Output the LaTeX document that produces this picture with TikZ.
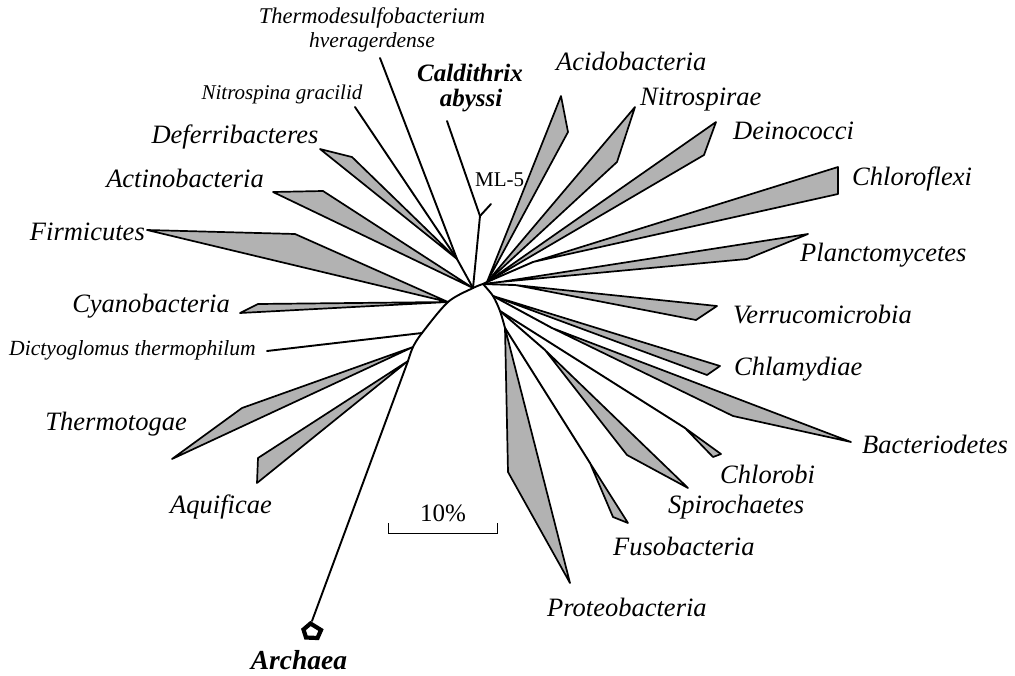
\documentclass[tikz,border=0pt]{standalone}
\usepackage{fontspec}
\setmainfont{Liberation Serif}
\begin{document}
\begin{tikzpicture}[x=1pt,y=-1pt,
  clade/.style={draw=black, fill=black!30, line width=1.7pt, line join=round},
  branch/.style={draw=black, line width=1.9pt, line join=round, line cap=round},
  biglab/.style={font=\fontsize{26.5}{30}\selectfont\itshape, inner sep=0pt},
  smalllab/.style={font=\fontsize{21}{24}\selectfont\itshape, inner sep=0pt},
  boldlab/.style={font=\fontsize{25}{28}\selectfont\bfseries\itshape, inner sep=0pt},
  uplab/.style={font=\fontsize{21}{24}\selectfont, inner sep=0pt}]
\useasboundingbox (0,0) rectangle (1015,675);
% junctions
\coordinate (C) at (473,288);
\coordinate (R) at (483,284);
\coordinate (UR) at (487,282);
\coordinate (N1) at (457,259);
\coordinate (L1) at (448,302);
\coordinate (L2) at (422,333);
\coordinate (L3) at (413,347);
\coordinate (L4) at (408,361);
\coordinate (R1) at (493,296);
\coordinate (R2) at (500,311);
\coordinate (P) at (505,328);
\coordinate (ML) at (480,216);
\coordinate (CalT) at (447,121);
\coordinate (MLT) at (491,204);
\coordinate (NitT) at (355,107);
\coordinate (TheT) at (380,58);
\coordinate (DicT) at (267,351);
\coordinate (ArcT) at (312,621);
\coordinate (CF) at (533,262);
\coordinate (PL) at (500,282);
\coordinate (VE) at (515,285);
\coordinate (BA) at (552,328);
\coordinate (CB) at (685,428);
\coordinate (SP) at (545,350);
\coordinate (FU) at (590,463);
% backbone
\draw[branch] plot[smooth,tension=0.5] coordinates {(R) (C) (L1) (L2) (L3) (L4)};
\draw[branch] plot[smooth,tension=0.5] coordinates {(R) (R1) (R2) (P)};
\draw[branch] (L4) -- (ArcT);
\draw[line width=4.2pt, fill=white, line join=miter] (303.5,629.5) -- (310.5,623.5) -- (321,630) -- (317.5,638) -- (306,637.5) -- cycle;
% upper left
\draw[branch] (C) -- (ML);
\draw[branch] (ML) -- (CalT);
\draw[branch] (ML) -- (MLT);
\draw[branch] (C) -- (N1);
\draw[branch] (N1) -- (NitT);
\draw[branch] (N1) -- (TheT);
\draw[clade] (N1) -- (320,149) -- (352,157) -- cycle;
\draw[clade] (C) -- (273,192) -- (323,191) -- cycle;
\draw[clade] (L1) -- (147,230) -- (295,234) -- cycle;
\draw[clade] (L1) -- (240,313) -- (258,304) -- cycle;
\draw[branch] (L2) -- (DicT);
\draw[clade] (L3) -- (172,459) -- (242,408) -- cycle;
\draw[clade] (L4) -- (257,483) -- (258,458) -- cycle;
% upper right
\draw[branch] (R) -- (UR);
\draw[clade] (UR) -- (561,96) -- (568,132) -- cycle;
\draw[clade] (UR) -- (635,107) -- (617,162) -- cycle;
\draw[clade] (UR) -- (716,122) -- (704,155) -- cycle;
\draw[branch] (UR) -- (CF);
\draw[clade] (CF) -- (838,167) -- (838,194) -- cycle;
\draw[branch] (R) -- (PL);
\draw[clade] (PL) -- (808,234) -- (747,259) -- cycle;
\draw[branch] (R) -- (VE);
\draw[clade] (VE) -- (717,306) -- (696,320) -- cycle;
% lower right
\draw[clade] (R1) -- (720,366) -- (707,375) -- cycle;
\draw[branch] (R1) -- (BA);
\draw[clade] (BA) -- (851,442) -- (733,416) -- cycle;
\draw[branch] (R2) -- (CB);
\draw[clade] (CB) -- (721,454) -- (713,457) -- cycle;
\draw[branch] (R2) -- (SP);
\draw[clade] (SP) -- (688,488) -- (627,455) -- cycle;
\draw[branch] (P) -- (FU);
\draw[clade] (FU) -- (628,523) -- (613,517) -- cycle;
\draw[clade] (P) -- (508,472) -- (570,583) -- cycle;
% scale bar
\coordinate (SB1) at (388,523);
\coordinate (SB2) at (497,523);
\draw[line width=0.9pt] (SB1) -- ++(0,10) -| (SB2);
\node[uplab, font=\fontsize{25}{28}\selectfont, anchor=base] (sb) at (443,521.5) {10\%};
% labels
\node[smalllab, font=\fontsize{22.5}{25}\selectfont\itshape, anchor=base] (the1) at (372,23.5) {Thermodesulfobacterium};
\node[smalllab, font=\fontsize{21.5}{24}\selectfont\itshape, anchor=base] (the2) at (372,47) {hveragerdense};
\node[smalllab, anchor=base] (nit) at (282,99) {Nitrospina gracilid};
\node[boldlab, anchor=base] (cal1) at (470,81) {Caldithrix};
\node[boldlab, anchor=base] (cal2) at (471,106) {abyssi};
\node[uplab, anchor=base west] (ml5) at (475,186.5) {ML-5};
\node[biglab, anchor=base] (def) at (235,143) {Deferribacteres};
\node[biglab, anchor=base] (act) at (185,187) {Actinobacteria};
\node[biglab, anchor=base east] (fir) at (145,240) {Firmicutes};
\node[biglab, anchor=base east] (cya) at (230,312.5) {Cyanobacteria};
\node[smalllab, font=\fontsize{21.6}{24}\selectfont\itshape, anchor=base east] (dic) at (256,355) {Dictyoglomus thermophilum};
\node[biglab, anchor=base east] (tht) at (187,430) {Thermotogae};
\node[biglab, anchor=base] (aqu) at (221,513) {Aquificae};
\node[boldlab, font=\fontsize{27.5}{30}\selectfont\bfseries\itshape, anchor=base] (arc) at (299,669) {Archaea};
\node[biglab, anchor=base west] (pro) at (547,616.5) {Proteobacteria};
\node[biglab, anchor=base west] (fus) at (613,555) {Fusobacteria};
\node[biglab, anchor=base west] (spi) at (668,513) {Spirochaetes};
\node[biglab, anchor=base west] (chb) at (720,483) {Chlorobi};
\node[biglab, anchor=base west] (bac) at (862,453) {Bacteriodetes};
\node[biglab, anchor=base west] (chl) at (734,375) {Chlamydiae};
\node[biglab, anchor=base west] (ver) at (733,323) {Verrucomicrobia};
\node[biglab, anchor=base west] (pla) at (800,261.5) {Planctomycetes};
\node[biglab, anchor=base west] (chf) at (852,185) {Chloroflexi};
\node[biglab, anchor=base west] (dei) at (733,139) {Deinococci};
\node[biglab, anchor=base west] (nis) at (640,105) {Nitrospirae};
\node[biglab, anchor=base west] (aci) at (556,70) {Acidobacteria};
\end{tikzpicture}
\end{document}
